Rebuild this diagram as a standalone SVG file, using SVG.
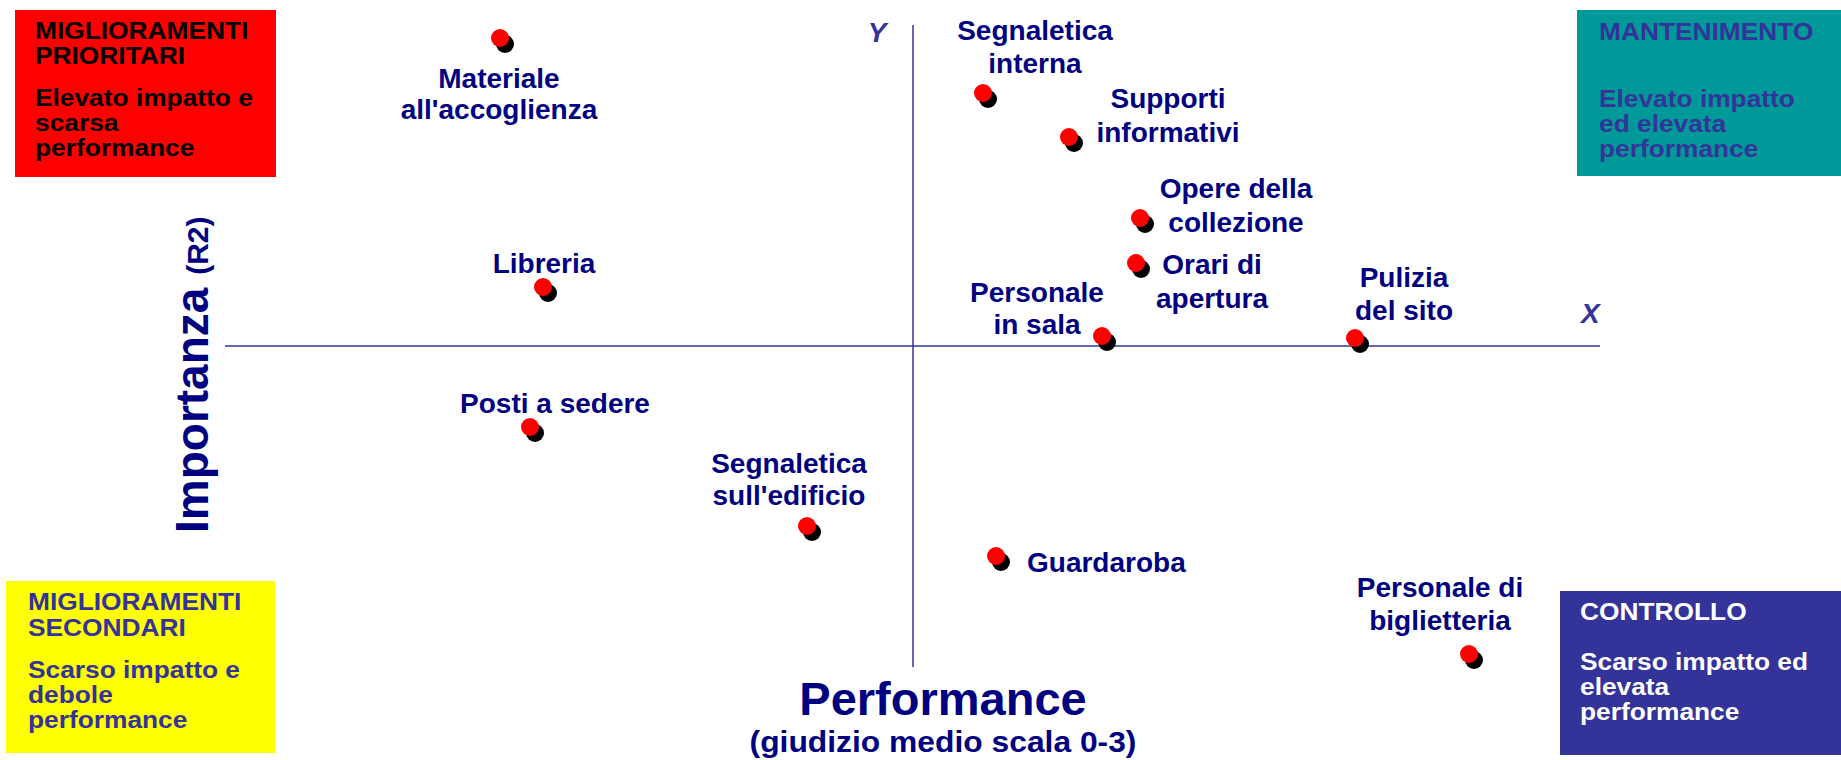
<svg xmlns="http://www.w3.org/2000/svg" width="1841" height="760" viewBox="0 0 1841 760">
<style>
text{font-family:"Liberation Sans",Arial,sans-serif;font-weight:bold}
.lbl{font-size:28px;fill:#000080;text-anchor:middle}
.lbls{font-size:28px;fill:#000080}
.box{font-size:23.5px}
.ax{stroke:#333399;stroke-width:1.5;fill:none}
.axl{font-size:28px;font-style:italic;fill:#333399}
</style>
<defs>
<g id="dot"><circle cx="5" cy="6" r="9" fill="#000"/><circle cx="0" cy="0" r="9" fill="#ff0000"/></g>
</defs>
<rect width="1841" height="760" fill="#fff"/>
<g id="axes">
<line class="ax" x1="225" y1="346" x2="1600" y2="346"/>
<line class="ax" x1="913" y1="25" x2="913" y2="667"/>
<text class="axl" x="1581" y="323">X</text>
<text class="axl" x="877" y="42" text-anchor="middle">Y</text>
<text x="943" y="715" font-size="47" fill="#000080" text-anchor="middle">Performance</text>
<text transform="translate(943,752) scale(1.06,1)" x="0" y="0" font-size="30" fill="#000080" text-anchor="middle">(giudizio medio scala 0-3)</text>
<text transform="translate(208,533) rotate(-90)" font-size="46" fill="#000080">Importanza <tspan font-size="30">(R2)</tspan></text>
</g>
<g id="q-prioritari">
<rect x="15" y="10" width="261" height="167" fill="#ff0000"/>
<text class="box" fill="#000" transform="translate(35,0) scale(1.12,1)"><tspan x="0" y="39">MIGLIORAMENTI</tspan><tspan x="0" y="64">PRIORITARI</tspan><tspan x="0" y="106">Elevato impatto e</tspan><tspan x="0" y="131">scarsa</tspan><tspan x="0" y="156">performance</tspan></text>
</g>
<g id="q-mantenimento">
<rect x="1577" y="10" width="264" height="166" fill="#009999"/>
<text class="box" fill="#333399" transform="translate(1599,0) scale(1.12,1)"><tspan x="0" y="40">MANTENIMENTO</tspan><tspan x="0" y="107">Elevato impatto</tspan><tspan x="0" y="132">ed elevata</tspan><tspan x="0" y="157">performance</tspan></text>
</g>
<g id="q-secondari">
<rect x="6" y="581" width="269" height="172" fill="#ffff00"/>
<text class="box" fill="#333399" transform="translate(28,0) scale(1.12,1)"><tspan x="0" y="610">MIGLIORAMENTI</tspan><tspan x="0" y="636">SECONDARI</tspan><tspan x="0" y="678">Scarso impatto e</tspan><tspan x="0" y="703">debole</tspan><tspan x="0" y="728">performance</tspan></text>
</g>
<g id="q-controllo">
<rect x="1560" y="591" width="281" height="164" fill="#333399"/>
<text class="box" fill="#fff" transform="translate(1580,0) scale(1.12,1)"><tspan x="0" y="620">CONTROLLO</tspan><tspan x="0" y="670">Scarso impatto ed</tspan><tspan x="0" y="695">elevata</tspan><tspan x="0" y="720">performance</tspan></text>
</g>
<g id="n-materiale"><use href="#dot" x="500" y="38"/><text class="lbl"><tspan x="499" y="88">Materiale</tspan><tspan x="499" y="119">all'accoglienza</tspan></text></g>
<g id="n-libreria"><use href="#dot" x="543" y="287"/><text class="lbl" x="544" y="273">Libreria</text></g>
<g id="n-posti"><use href="#dot" x="530" y="427"/><text class="lbl" x="555" y="413">Posti a sedere</text></g>
<g id="n-segn-edificio"><use href="#dot" x="807" y="526"/><text class="lbl"><tspan x="789" y="473">Segnaletica</tspan><tspan x="789" y="505">sull'edificio</tspan></text></g>
<g id="n-guardaroba"><use href="#dot" x="996" y="556"/><text class="lbls" x="1027" y="572">Guardaroba</text></g>
<g id="n-segn-interna"><use href="#dot" x="983" y="93"/><text class="lbl"><tspan x="1035" y="40">Segnaletica</tspan><tspan x="1035" y="73">interna</tspan></text></g>
<g id="n-supporti"><use href="#dot" x="1069" y="137"/><text class="lbl"><tspan x="1168" y="108">Supporti</tspan><tspan x="1168" y="142">informativi</tspan></text></g>
<g id="n-opere"><use href="#dot" x="1140" y="218"/><text class="lbl"><tspan x="1236" y="198">Opere della</tspan><tspan x="1236" y="232">collezione</tspan></text></g>
<g id="n-orari"><use href="#dot" x="1136" y="263"/><text class="lbl"><tspan x="1212" y="274">Orari di</tspan><tspan x="1212" y="308">apertura</tspan></text></g>
<g id="n-personale-sala"><use href="#dot" x="1102" y="336"/><text class="lbl"><tspan x="1037" y="302">Personale</tspan><tspan x="1037" y="334">in sala</tspan></text></g>
<g id="n-pulizia"><use href="#dot" x="1355" y="338"/><text class="lbl"><tspan x="1404" y="287">Pulizia</tspan><tspan x="1404" y="320">del sito</tspan></text></g>
<g id="n-biglietteria"><use href="#dot" x="1469" y="654"/><text class="lbl"><tspan x="1440" y="597">Personale di</tspan><tspan x="1440" y="630">biglietteria</tspan></text></g>
<g id="connectors"></g>
</svg>
